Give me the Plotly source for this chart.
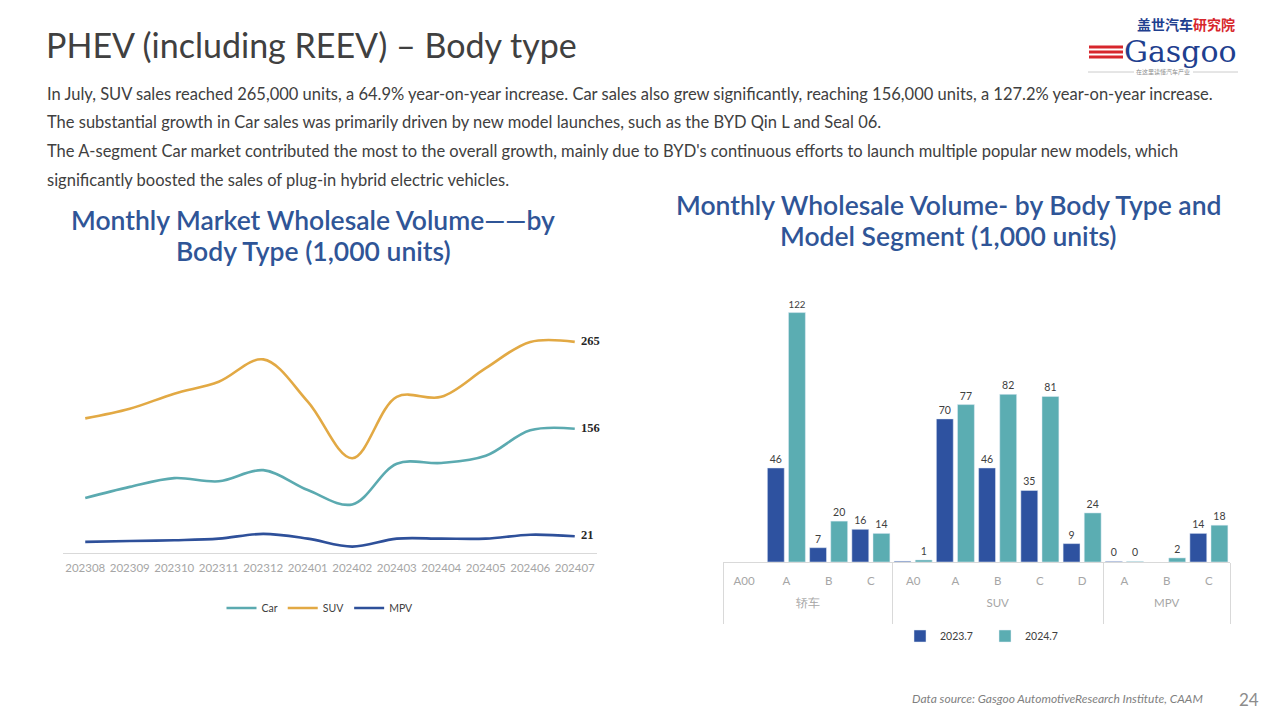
import plotly.graph_objects as go

# ---------------- data ----------------
months = ["202308", "202309", "202310", "202311", "202312", "202401",
          "202402", "202403", "202404", "202405", "202406", "202407"]
car = [69, 83, 94, 90, 104, 79, 61, 112, 113, 122, 154, 156]
suv = [169, 181, 200, 215, 243, 190, 119, 196, 196, 232, 265, 265]
mpv = [14, 15, 16, 18, 24, 18, 8, 18, 18, 18, 23, 21]

group_names = ["轿车", "SUV", "MPV"]
groups = ["轿车"] * 4 + ["SUV"] * 5 + ["MPV"] * 3
segments = ["A00", "A", "B", "C", "A0", "A", "B", "C", "D", "A", "B", "C"]
vol_2023 = [None, 46, 7, 16, 0.4, 70, 46, 35, 9, 0.3, None, 14]
vol_2024 = [None, 122, 20, 14, 1, 77, 82, 81, 24, 0.3, 2, 18]
lbl_2023 = ["", "46", "7", "16", "", "70", "46", "35", "9", "0", "", "14"]
lbl_2024 = ["", "122", "20", "14", "1", "77", "82", "81", "24", "0", "2", "18"]

C_CAR = "#5BAAB0"
C_SUV = "#E2A944"
C_MPV = "#2E509A"
C_23 = "#2E52A0"
C_24 = "#5BADB2"
FONT = "Lato"
W, H = 1280, 720


def px(x):
    return x / W


def py(y):
    return 1 - y / H


fig = go.Figure()

# ---------------- left: line chart ----------------
def last_label(vals):
    return [""] * (len(vals) - 1) + ["  " + str(vals[-1])]


for name, vals, col in [("Car", car, C_CAR), ("SUV", suv, C_SUV), ("MPV", mpv, C_MPV)]:
    fig.add_trace(go.Scatter(
        x=months, y=vals, name=name, mode="lines+text",
        line=dict(color=col, width=2.6, shape="spline", smoothing=1.0),
        text=last_label(vals), textposition="middle right",
        textfont=dict(family="Liberation Serif", size=12.5, color="#262626", weight="bold"),
        xaxis="x", yaxis="y", legend="legend", cliponaxis=False,
    ))

# ---------------- right: bar chart ----------------
# unique sub-labels per group (zero-width spaces) keep plotly's segment order per group
seg_ticks = [s + "\u200b" * group_names.index(g) + "<br>\u00a0"
             for g, s in zip(groups, segments)]
grp_ticks = [g + "<br>\u00a0" for g in groups]
for name, vals, lbls, col in [("2023.7", vol_2023, lbl_2023, C_23),
                              ("2024.7", vol_2024, lbl_2024, C_24)]:
    fig.add_trace(go.Bar(
        x=[grp_ticks, seg_ticks], y=vals, name=name, marker_color=col,
        text=lbls, textposition="outside", cliponaxis=False,
        textfont=dict(family=FONT, size=10.5, color="#404040"),
        xaxis="x2", yaxis="y2", legend="legend2",
    ))

fig.update_layout(
    width=W, height=H,
    margin=dict(l=0, r=0, t=0, b=0),
    paper_bgcolor="white", plot_bgcolor="white",
    font=dict(family=FONT, color="#404040"),
    barmode="group", bargap=0.0, bargroupgap=0.2,
    xaxis=dict(domain=[px(63), px(597)], anchor="y",
               showline=True, linecolor="#D9D9D9", linewidth=1,
               showgrid=False, ticks="", tickfont=dict(size=11.5, color="#A6A6A6", family=FONT),
               ticklabelstandoff=4, range=[-0.5, 11.5]),
    yaxis=dict(domain=[py(553), py(314)], anchor="x",
               range=[0, 300], visible=False, showgrid=False),
    xaxis2=dict(domain=[px(723), px(1230)], anchor="y2", type="multicategory",
                showline=True, linecolor="#D9D9D9", linewidth=1,
                showgrid=False, ticks="", showdividers=True,
                dividercolor="#D9D9D9", dividerwidth=1, ticklabelstandoff=8,
                tickfont=dict(size=11.5, color="#A6A6A6", family=FONT)),
    yaxis2=dict(domain=[py(562), py(286)], anchor="x2",
                range=[0, 135], visible=False, showgrid=False),
    legend=dict(orientation="h", x=px(320), y=py(608), xanchor="center", yanchor="middle",
                font=dict(size=10.5, color="#404040"), traceorder="normal", itemwidth=30),
    legend2=dict(orientation="h", x=px(985), y=py(636), xanchor="center", yanchor="middle",
                 font=dict(size=10.5, color="#404040"), traceorder="normal", itemwidth=30,
                 entrywidth=40, entrywidthmode="pixels"),
    showlegend=True,
)


def ann(text, x, y, size, color="#404040", family=FONT, xanchor="left", weight=None, **kw):
    f = dict(size=size, color=color, family=family)
    if weight:
        f["weight"] = weight
    return dict(text=text, x=px(x), y=py(y), xref="paper", yref="paper",
                xanchor=xanchor, yanchor="middle", showarrow=False, font=f, **kw)


TITLE_BLUE = "#2F5597"
annotations = [
    ann("PHEV (including REEV) – Body type", 44, 44, 34),
    ann("In July, SUV sales reached 265,000 units, a 64.9% year-on-year increase. Car sales also grew significantly, reaching 156,000 units, a 127.2% year-on-year increase.",
        45, 94, 16.5),
    ann("The substantial growth in Car sales was primarily driven by new model launches, such as the BYD Qin L and Seal 06.",
        45, 122, 16.5),
    ann("The A-segment Car market contributed the most to the overall growth, mainly due to BYD's continuous efforts to launch multiple popular new models, which",
        45, 151, 16.5),
    ann("significantly boosted the sales of plug-in hybrid electric vehicles.", 45, 180, 16.5),
    ann("Monthly Market Wholesale Volume——by", 313, 220, 26.5, color=TITLE_BLUE,
        xanchor="center", weight=600),
    ann("Body Type (1,000 units)", 313, 251, 26.5, color=TITLE_BLUE, xanchor="center", weight=600),
    ann("Monthly Wholesale Volume- by Body Type and", 948, 205, 26.5, color=TITLE_BLUE,
        xanchor="center", weight=600),
    ann("Model Segment (1,000 units)", 948, 236, 26.5, color=TITLE_BLUE, xanchor="center", weight=600),
    ann("<i>Data source: Gasgoo AutomotiveResearch Institute, CAAM</i>", 1205, 698, 12,
        color="#7F7F7F", xanchor="right"),
    ann("24", 1249, 699, 17, color="#8C8C8C", xanchor="center"),
    # logo
    ann("<b>盖世汽车</b><b><span style='color:#D7262C'>研究院</span></b>", 1186, 24, 14,
        color="#1F3F8F", family="Noto Sans CJK SC", xanchor="center"),
    ann("Gasgoo", 1180, 52, 30, color="#1F3F8F", family="DejaVu Serif", xanchor="center"),
    ann("在这里读懂汽车产业", 1163, 72, 6, color="#8C8C8C", family="Noto Sans CJK SC",
        xanchor="center"),
]
fig.update_layout(annotations=annotations)

shapes = []
for yy in (47, 52, 57):
    shapes.append(dict(type="line", xref="paper", yref="paper",
                       x0=px(1089), x1=px(1123), y0=py(yy), y1=py(yy),
                       line=dict(color="#D7262C", width=3)))
for xa, xb in ((1088, 1134), (1193, 1238)):
    shapes.append(dict(type="line", xref="paper", yref="paper",
                       x0=px(xa), x1=px(xb), y0=py(72), y1=py(72),
                       line=dict(color="#BFBFBF", width=0.8)))
fig.update_layout(shapes=shapes)

fig.write_html("out.html", config={"displayModeBar": False},
               post_script="document.body.style.margin='0';document.body.style.overflow='hidden';")
